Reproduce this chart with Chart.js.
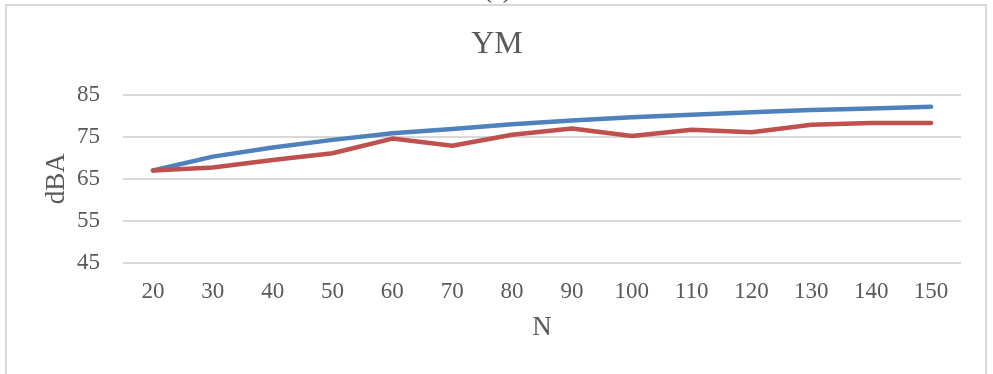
<!DOCTYPE html>
<html>
<head>
<meta charset="utf-8">
<script src="https://cdn.jsdelivr.net/npm/chart.js@4.4.1/dist/chart.umd.min.js"></script>
<style>
  html, body { margin: 0; padding: 0; background: #fff; overflow: hidden; }
  #wrap { position: relative; width: 993px; height: 374px; }
  #frame {
    position: absolute; left: 5px; top: 4px; width: 982px; height: 420px;
    border: 2px solid #d9d9d9; box-sizing: border-box;
  }
  #tag {
    position: absolute; left: 484px; top: -23px;
    font: 24px "Liberation Serif", serif; color: #333;
  }
  canvas { position: absolute; left: 0; top: 0; }
</style>
</head>
<body>
<div id="wrap">
  <div id="frame"></div>
  <div id="tag">(c)</div>
  <canvas id="ym-chart" width="993" height="374"></canvas>
</div>
<script>
// values
const categories = ['20', '30', '40', '50', '60', '70', '80', '90', '100', '110', '120', '130', '140', '150'];
const blueSeries = [67.0, 70.3, 72.5, 74.3, 75.9, 76.9, 78.0, 78.9, 79.7, 80.3, 80.9, 81.4, 81.8, 82.2];
const redSeries = [67.0, 67.7, 69.5, 71.1, 74.6, 72.9, 75.5, 77.0, 75.2, 76.7, 76.1, 77.9, 78.3, 78.3];
const yTicks = [45, 55, 65, 75, 85];

const textColor = '#595959';
const gridColor = '#d9d9d9';
const serif = 'Liberation Serif';

document.addEventListener('DOMContentLoaded', () => {
  const ctx = document.getElementById('ym-chart');

  new Chart(ctx, {
    type: 'line',
    data: {
      labels: categories,
      datasets: [{
        label: 'Series1',
        data: blueSeries,
        borderColor: '#4f81bd',
        borderWidth: 4.5,
        borderCapStyle: 'round',
        borderJoinStyle: 'round',
        pointRadius: 0,
        tension: 0,
        order: 1
      }, {
        label: 'Series2',
        data: redSeries,
        borderColor: '#c0504d',
        borderWidth: 4.5,
        borderCapStyle: 'round',
        borderJoinStyle: 'round',
        pointRadius: 0,
        tension: 0,
        order: 0
      }]
    },
    options: {
      responsive: false,
      animation: false,
      layout: {
        // left padding keeps the title centred where the reference has it
        padding: { top: 10, right: 32, bottom: 0, left: 33 }
      },
      plugins: {
        legend: { display: false },
        tooltip: { enabled: false },
        title: {
          display: true,
          text: 'YM',
          color: textColor,
          font: { family: serif, size: 32, weight: 'normal' },
          padding: { top: 15, bottom: 31.6 }
        }
      },
      scales: {
        x: {
          offset: true,
          afterFit: scale => { scale.height = 111.3; },
          grid: { display: false },
          border: { display: false },
          ticks: {
            color: textColor,
            padding: 7,
            maxRotation: 0,
            autoSkip: false,
            font: { family: serif, size: 23 }
          },
          title: {
            display: true,
            text: 'N',
            color: textColor,
            font: { family: serif, size: 27 },
            padding: { top: 0, bottom: 30 }
          }
        },
        y: {
          min: yTicks[0],
          max: yTicks[yTicks.length - 1],
          afterFit: scale => { scale.width = 90; },
          afterBuildTicks: scale => {
            scale.ticks = yTicks.map(v => ({ value: v }));
          },
          grid: {
            color: gridColor,
            lineWidth: 2,
            drawTicks: false
          },
          border: { display: false },
          ticks: {
            color: textColor,
            padding: 23,
            font: { family: serif, size: 23 }
          },
          title: {
            display: true,
            text: 'dBA',
            color: textColor,
            font: { family: serif, size: 27 },
            padding: { top: 7.8, bottom: 0 }
          }
        }
      }
    }
  });
});
</script>
</body>
</html>
